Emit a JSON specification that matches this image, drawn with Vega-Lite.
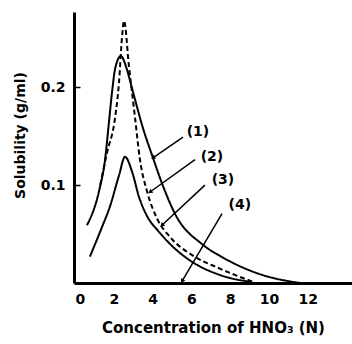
{
  "$schema": "https://vega.github.io/schema/vega-lite/v6.json",
  "autosize": "none",
  "width": 278,
  "height": 271,
  "padding": {"left": 74, "top": 12, "right": 0, "bottom": 61},
  "background": "white",
  "config": {
    "view": {"stroke": null},
    "font": "DejaVu Sans",
    "axis": {"grid": false, "domainColor": "black", "domainWidth": 3, "tickColor": "black", "labelColor": "black", "titleColor": "black", "labelFont": "DejaVu Sans", "titleFont": "DejaVu Sans", "labelFontWeight": "bold", "titleFontWeight": "bold", "labelFontSize": 14, "titleFontSize": 14}
  },
  "datasets": {
    "curves": [
      {"c": "1", "x": 0.62, "y": 0.059},
      {"c": "1", "x": 1.24, "y": 0.094},
      {"c": "1", "x": 1.55, "y": 0.126},
      {"c": "1", "x": 1.75, "y": 0.164},
      {"c": "1", "x": 1.91, "y": 0.195},
      {"c": "1", "x": 2.08, "y": 0.220},
      {"c": "1", "x": 2.37, "y": 0.232},
      {"c": "1", "x": 2.65, "y": 0.220},
      {"c": "1", "x": 2.94, "y": 0.199},
      {"c": "1", "x": 3.51, "y": 0.158},
      {"c": "1", "x": 4.02, "y": 0.128},
      {"c": "1", "x": 4.54, "y": 0.099},
      {"c": "1", "x": 5.15, "y": 0.071},
      {"c": "1", "x": 6.60, "y": 0.039},
      {"c": "1", "x": 7.63, "y": 0.026},
      {"c": "1", "x": 9.69, "y": 0.008},
      {"c": "1", "x": 11.6, "y": 0.0},
      {"c": "2", "x": 1.3, "y": 0.100},
      {"c": "2", "x": 1.65, "y": 0.133},
      {"c": "2", "x": 2.06, "y": 0.168},
      {"c": "2", "x": 2.27, "y": 0.205},
      {"c": "2", "x": 2.42, "y": 0.250},
      {"c": "2", "x": 2.53, "y": 0.268},
      {"c": "2", "x": 2.78, "y": 0.222},
      {"c": "2", "x": 3.09, "y": 0.170},
      {"c": "2", "x": 3.35, "y": 0.126},
      {"c": "2", "x": 3.71, "y": 0.094},
      {"c": "2", "x": 4.23, "y": 0.066},
      {"c": "2", "x": 4.90, "y": 0.047},
      {"c": "2", "x": 6.08, "y": 0.028},
      {"c": "2", "x": 7.32, "y": 0.016},
      {"c": "2", "x": 9.2, "y": 0.001},
      {"c": "3", "x": 0.77, "y": 0.027},
      {"c": "3", "x": 1.39, "y": 0.057},
      {"c": "3", "x": 1.80, "y": 0.078},
      {"c": "3", "x": 2.27, "y": 0.110},
      {"c": "3", "x": 2.58, "y": 0.129},
      {"c": "3", "x": 2.94, "y": 0.114},
      {"c": "3", "x": 3.30, "y": 0.088},
      {"c": "3", "x": 3.7, "y": 0.069},
      {"c": "3", "x": 4.3, "y": 0.053},
      {"c": "3", "x": 5.0, "y": 0.038},
      {"c": "3", "x": 5.93, "y": 0.023},
      {"c": "3", "x": 7.5, "y": 0.008},
      {"c": "3", "x": 9.1, "y": 0.001}
    ],
    "notes": [
      {"label": "(1)", "lx": 6.34, "ly": 0.154, "x": 5.57, "y": 0.149, "x2": 4.02, "y2": 0.128, "dir": 235},
      {"label": "(2)", "lx": 7.06, "ly": 0.129, "x": 6.19, "y": 0.126, "x2": 3.87, "y2": 0.093, "dir": 235},
      {"label": "(3)", "lx": 7.63, "ly": 0.105, "x": 6.70, "y": 0.100, "x2": 4.48, "y2": 0.059, "dir": 227},
      {"label": "(4)", "lx": 8.5, "ly": 0.080, "x": 7.58, "y": 0.071, "x2": 5.52, "y2": 0.002, "dir": 210}
    ]
  },
  "layer": [
    {
      "data": {"name": "curves"},
      "mark": {"type": "line", "color": "black", "strokeWidth": 2, "interpolate": "monotone"},
      "encoding": {
        "x": {"field": "x", "type": "quantitative", "scale": {"domain": [-0.05, 14.28], "nice": false, "zero": false},
              "axis": {"values": [0, 2, 4, 6, 8, 10, 12], "ticks": false, "labelPadding": 9, "title": "Concentration of HNO₃ (N)", "titleFontSize": 15, "titlePadding": 14}},
        "y": {"field": "y", "type": "quantitative", "scale": {"domain": [0, 0.277], "nice": false},
              "axis": {"values": [0.1, 0.2], "format": ".1f", "tickSize": -6, "tickWidth": 1.5, "labelPadding": 15, "title": "Solubility (g/ml)", "titleX": -54, "titleY": 123, "titleAngle": 270, "titleAlign": "center", "titleBaseline": "middle"}},
        "detail": {"field": "c"},
        "strokeDash": {"field": "c", "type": "nominal", "scale": {"domain": ["1", "2", "3"], "range": [[1, 0], [5, 3], [1, 0]]}, "legend": null}
      }
    },
    {
      "data": {"name": "notes"},
      "mark": {"type": "rule", "color": "black", "strokeWidth": 1.5},
      "encoding": {
        "x": {"field": "x", "type": "quantitative"},
        "y": {"field": "y", "type": "quantitative"},
        "x2": {"field": "x2"},
        "y2": {"field": "y2"}
      }
    },
    {
      "data": {"name": "notes"},
      "mark": {"type": "point", "shape": "triangle-up", "filled": true, "color": "black", "size": 25, "opacity": 1},
      "encoding": {
        "x": {"field": "x2", "type": "quantitative"},
        "y": {"field": "y2", "type": "quantitative"},
        "angle": {"field": "dir", "type": "quantitative", "scale": null}
      }
    },
    {
      "data": {"name": "notes"},
      "mark": {"type": "text", "font": "DejaVu Sans", "fontWeight": "bold", "fontSize": 14, "color": "black"},
      "encoding": {
        "x": {"field": "lx", "type": "quantitative"},
        "y": {"field": "ly", "type": "quantitative"},
        "text": {"field": "label"}
      }
    }
  ]
}
